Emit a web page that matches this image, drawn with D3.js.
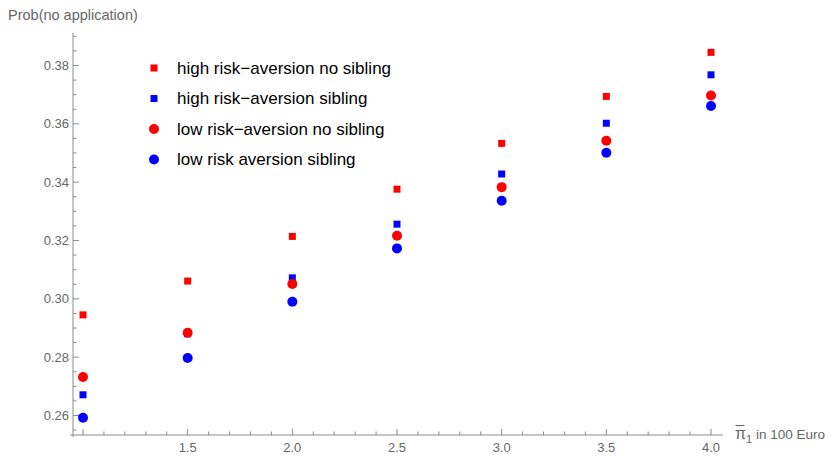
<!DOCTYPE html>
<html>
<head>
<meta charset="utf-8">
<script src="https://cdn.jsdelivr.net/npm/d3@7"></script>
<style>
  html, body { margin: 0; padding: 0; background: #fff; }
  svg { display: block; font-family: "Liberation Sans", Arial, sans-serif; }
</style>
</head>
<body>
<svg id="chart" width="838" height="457"></svg>
<script>
// Top-up value on the x axis (in 100 Euro)
const xValues = [1.0, 1.5, 2.0, 2.5, 3.0, 3.5, 4.0];

// Probability of no application for each group
const highNoSibling = [0.2945, 0.3061, 0.3214, 0.3376, 0.3533, 0.3694, 0.3845];
const highSibling   = [0.2671, 0.2880, 0.3072, 0.3256, 0.3428, 0.3602, 0.3768];
const lowNoSibling  = [0.2732, 0.2884, 0.3051, 0.3216, 0.3383, 0.3542, 0.3697];
const lowSibling    = [0.2592, 0.2797, 0.2990, 0.3173, 0.3336, 0.3501, 0.3661];

const seriesNames = [
  "high risk\u2212aversion no sibling",
  "high risk\u2212aversion sibling",
  "low risk\u2212aversion no sibling",
  "low risk aversion sibling"
];

const xTickLabels = [1.5, 2.0, 2.5, 3.0, 3.5, 4.0];
const yTickLabels = [0.26, 0.28, 0.30, 0.32, 0.34, 0.36, 0.38];

const series = [
  { name: seriesNames[0], values: highNoSibling, color: "#ff0000", shape: "square" },
  { name: seriesNames[1], values: highSibling,   color: "#0000ff", shape: "square" },
  { name: seriesNames[2], values: lowNoSibling,  color: "#ff0000", shape: "circle" },
  { name: seriesNames[3], values: lowSibling,    color: "#0000ff", shape: "circle" }
];

const svg = d3.select("#chart");
const axisColor = "#8a8a8a";
const labelColor = "#666666";

const x = d3.scaleLinear().domain([1.0, 4.0]).range([83, 711]);
const y = d3.scaleLinear().domain([0.26, 0.38]).range([415.5, 65.5]);

const axisX0 = 73;   // where the vertical axis sits
const axisY0 = 435;  // where the horizontal axis sits

// Horizontal axis
const gx = svg.append("g");
gx.append("line")
  .attr("x1", 70).attr("x2", 723)
  .attr("y1", axisY0).attr("y2", axisY0)
  .attr("stroke", axisColor).attr("stroke-width", 1);

const xMinor = d3.range(10, 41).map(d => d / 10);
gx.selectAll("line.xminor")
  .data(xMinor)
  .join("line")
  .attr("class", "xminor")
  .attr("x1", d => x(d)).attr("x2", d => x(d))
  .attr("y1", axisY0)
  .attr("y2", d => (Math.abs(d * 2 - Math.round(d * 2)) < 1e-6) ? axisY0 - 6 : axisY0 - 3.5)
  .attr("stroke", axisColor).attr("stroke-width", 1);

gx.selectAll("text.xlab")
  .data(xTickLabels)
  .join("text")
  .attr("class", "xlab")
  .attr("x", d => x(d))
  .attr("y", axisY0 + 17)
  .attr("text-anchor", "middle")
  .attr("font-size", 13)
  .attr("fill", labelColor)
  .text(d => d3.format(".1f")(d));

// Horizontal axis label: pi with a bar, subscript 1
const xt = svg.append("text")
  .attr("x", 735)
  .attr("y", axisY0 + 4)
  .attr("font-size", 13.5)
  .attr("fill", labelColor);
xt.append("tspan").attr("font-size", 16).text("\u03c0");
xt.append("tspan").attr("font-size", 11).attr("dy", 4).text("1");
xt.append("tspan").attr("dy", -4).text(" in 100 Euro");
svg.append("line")
  .attr("x1", 735.5).attr("x2", 744.5)
  .attr("y1", axisY0 - 9.5).attr("y2", axisY0 - 9.5)
  .attr("stroke", labelColor).attr("stroke-width", 1.1);

// Vertical axis
const gy = svg.append("g");
gy.append("line")
  .attr("x1", axisX0).attr("x2", axisX0)
  .attr("y1", 33).attr("y2", 437)
  .attr("stroke", axisColor).attr("stroke-width", 1);

const yMinor = d3.range(255, 395, 5).map(d => d / 1000);
gy.selectAll("line.yminor")
  .data(yMinor)
  .join("line")
  .attr("class", "yminor")
  .attr("y1", d => y(d)).attr("y2", d => y(d))
  .attr("x1", axisX0)
  .attr("x2", d => (Math.round(d * 1000) % 20 === 0) ? axisX0 + 6 : axisX0 + 3.5)
  .attr("stroke", axisColor).attr("stroke-width", 1);

gy.selectAll("text.ylab")
  .data(yTickLabels)
  .join("text")
  .attr("class", "ylab")
  .attr("x", axisX0 - 4)
  .attr("y", d => y(d) + 4.5)
  .attr("text-anchor", "end")
  .attr("font-size", 13)
  .attr("fill", labelColor)
  .text(d => d3.format(".2f")(d));

svg.append("text")
  .attr("x", 8).attr("y", 20)
  .attr("font-size", 14.5)
  .attr("fill", labelColor)
  .text("Prob(no application)");

// Markers
function drawMarker(g, shape, cx, cy, color) {
  if (shape === "square") {
    g.append("rect")
      .attr("x", cx - 3.5).attr("y", cy - 3.5)
      .attr("width", 7).attr("height", 7)
      .attr("fill", color);
  } else {
    g.append("circle")
      .attr("cx", cx).attr("cy", cy).attr("r", 5)
      .attr("fill", color);
  }
}

const plot = svg.append("g");
series.forEach(s => {
  const g = plot.append("g");
  s.values.forEach((v, i) => drawMarker(g, s.shape, x(xValues[i]), y(v), s.color));
});

// Legend
const legend = svg.append("g");
series.forEach((s, i) => {
  const ly = 68 + i * 30.5;
  drawMarker(legend, s.shape, 154, ly, s.color);
  legend.append("text")
    .attr("x", 177).attr("y", ly + 5.5)
    .attr("font-size", 17)
    .attr("fill", "#000")
    .text(s.name);
});
</script>
</body>
</html>
